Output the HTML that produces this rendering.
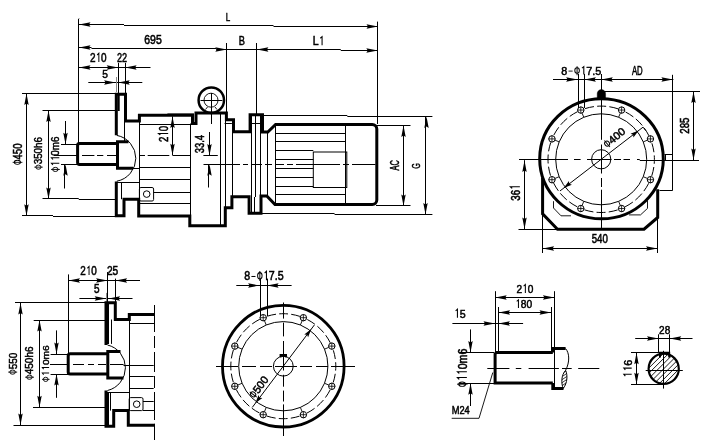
<!DOCTYPE html>
<html><head><meta charset="utf-8"><style>
html,body{margin:0;padding:0;background:#fff;}
svg{display:block;filter:grayscale(1);}
text{font-family:"Liberation Sans",sans-serif;font-size:100px;stroke:#000;stroke-width:4.5px;}
</style></head><body>
<svg width="709" height="445" viewBox="0 0 709 445">
<rect width="709" height="445" fill="#fff"/>
<line x1="79.5" y1="18.5" x2="79.5" y2="18.75" stroke="#000" stroke-width="1"/>
<line x1="78.5" y1="18.75" x2="78.5" y2="144" stroke="#000" stroke-width="1"/>
<line x1="79" y1="24.5" x2="124" y2="24.5" stroke="#000" stroke-width="1"/>
<line x1="124" y1="25.5" x2="273.5" y2="25.5" stroke="#000" stroke-width="1"/>
<line x1="273.5" y1="26.5" x2="378" y2="26.5" stroke="#000" stroke-width="1"/>
<polygon points="79,24.5 90.5,22.3 89,24.5 90.5,26.7" fill="#000"/>
<polygon points="378,26.5 366.5,28.7 368,26.5 366.5,24.3" fill="#000"/>
<g transform="translate(228.05 17.3) rotate(0) scale(0.0804 0.1101) translate(-28 34.5)"><text x="0" y="0">L</text></g>
<line x1="79" y1="47.5" x2="91.5" y2="47.5" stroke="#000" stroke-width="1"/>
<line x1="91.5" y1="48.5" x2="216.25" y2="48.5" stroke="#000" stroke-width="1"/>
<line x1="216.25" y1="49.5" x2="340.75" y2="49.5" stroke="#000" stroke-width="1"/>
<line x1="340.75" y1="50.5" x2="378" y2="50.5" stroke="#000" stroke-width="1"/>
<polygon points="79,47.5 90.5,45.3 89,47.5 90.5,49.7" fill="#000"/>
<polygon points="226.8,49.5 215.3,51.7 216.8,49.5 215.3,47.3" fill="#000"/>
<polygon points="256.9,49.5 268.4,47.3 266.9,49.5 268.4,51.7" fill="#000"/>
<polygon points="377.8,50.5 366.3,52.7 367.8,50.5 366.3,48.3" fill="#000"/>
<g transform="translate(153.05 40) rotate(0) scale(0.1048 0.1268) translate(-83.5 34.5)"><text x="0" y="0">695</text></g>
<g transform="translate(241.9 40.25) rotate(0) scale(0.0925 0.1232) translate(-33.5 34.5)"><text x="0" y="0">B</text></g>
<g transform="translate(317.65 40.95) rotate(0) scale(0.1058 0.1208) translate(-46.8 36)"><text x="0" y="0">L</text><path d="M88.61,0 V-71.5 L71.61,-58" fill="none" stroke="#000" stroke-width="10" stroke-linejoin="miter"/></g>
<line x1="226.5" y1="43" x2="226.5" y2="112" stroke="#000" stroke-width="1"/>
<line x1="256.5" y1="43" x2="256.5" y2="116" stroke="#000" stroke-width="1"/>
<line x1="255.5" y1="116" x2="255.5" y2="197" stroke="#000" stroke-width="1"/>
<line x1="254.5" y1="197" x2="254.5" y2="213" stroke="#000" stroke-width="1"/>
<line x1="377.5" y1="21.6" x2="377.5" y2="124" stroke="#000" stroke-width="1"/>
<line x1="79" y1="67.5" x2="150.5" y2="67.5" stroke="#000" stroke-width="1"/>
<polygon points="79,67.5 90.5,65.3 89,67.5 90.5,69.7" fill="#000"/>
<polygon points="118.2,67.5 106.7,69.7 108.2,67.5 106.7,65.3" fill="#000"/>
<polygon points="125.1,67.5 136.6,65.3 135.1,67.5 136.6,69.7" fill="#000"/>
<g transform="translate(98.35 57.7) rotate(0) scale(0.0999 0.1205) translate(-83.6 35.5)"><text x="0" y="0">2</text><path d="M88.61,0 V-71.5 L71.61,-58" fill="none" stroke="#000" stroke-width="10" stroke-linejoin="miter"/><text x="111.21" y="0">0</text></g>
<g transform="translate(121.95 57.7) rotate(0) scale(0.0910 0.1257) translate(-55.5 35)"><text x="0" y="0">22</text></g>
<line x1="118.5" y1="62.8" x2="118.5" y2="94" stroke="#000" stroke-width="1"/>
<line x1="125.5" y1="62.8" x2="125.5" y2="94" stroke="#000" stroke-width="1"/>
<line x1="88.3" y1="82.5" x2="142.3" y2="82.5" stroke="#000" stroke-width="1"/>
<polygon points="115.6,82.5 104.1,84.7 105.6,82.5 104.1,80.3" fill="#000"/>
<polygon points="118.2,82.5 129.7,80.3 128.2,82.5 129.7,84.7" fill="#000"/>
<g transform="translate(105.15 73.9) rotate(0) scale(0.1018 0.1171) translate(-28 34)"><text x="0" y="0">5</text></g>
<line x1="116.5" y1="77" x2="116.5" y2="92" stroke="#888" stroke-width="1"/>
<line x1="22" y1="93.5" x2="116" y2="93.5" stroke="#000" stroke-width="1"/>
<line x1="116" y1="94.5" x2="116" y2="94.5" stroke="#000" stroke-width="1"/>
<line x1="22" y1="215.5" x2="53" y2="215.5" stroke="#000" stroke-width="1"/>
<line x1="53" y1="216.5" x2="115" y2="216.5" stroke="#000" stroke-width="1"/>
<line x1="26.5" y1="93.5" x2="26.5" y2="215.8" stroke="#000" stroke-width="1"/>
<polygon points="26.5,93.6 28.7,105.1 26.5,103.6 24.3,105.1" fill="#000"/>
<polygon points="26.5,215.8 24.3,204.3 26.5,205.8 28.7,204.3" fill="#000"/>
<g transform="translate(17.45 154.1) rotate(-90) scale(0.0959 0.1219) translate(-114.5 35.5)"><ellipse cx="29" cy="-36" rx="21" ry="25" fill="none" stroke="#000" stroke-width="9"/><line x1="29" y1="-75" x2="29" y2="5" stroke="#000" stroke-width="9"/><text x="58" y="0">450</text></g>
<line x1="42.5" y1="110.5" x2="116" y2="110.5" stroke="#000" stroke-width="1"/>
<line x1="42.5" y1="198.5" x2="78.75" y2="198.5" stroke="#000" stroke-width="1"/>
<line x1="78.75" y1="199.5" x2="115" y2="199.5" stroke="#000" stroke-width="1"/>
<line x1="48.5" y1="110.5" x2="48.5" y2="198.9" stroke="#000" stroke-width="1"/>
<polygon points="48.5,110.6 50.7,122.1 48.5,120.6 46.3,122.1" fill="#000"/>
<polygon points="48.5,198.9 46.3,187.4 48.5,188.9 50.7,187.4" fill="#000"/>
<g transform="translate(38.5 153.3) rotate(-90) scale(0.0982 0.1041) translate(-170 35.5)"><ellipse cx="29" cy="-36" rx="21" ry="25" fill="none" stroke="#000" stroke-width="9"/><line x1="29" y1="-75" x2="29" y2="5" stroke="#000" stroke-width="9"/><text x="58" y="0">350h6</text></g>
<line x1="61" y1="144.5" x2="78" y2="144.5" stroke="#000" stroke-width="1"/>
<line x1="61" y1="164.5" x2="78" y2="164.5" stroke="#000" stroke-width="1"/>
<line x1="65.5" y1="121" x2="65.5" y2="144.2" stroke="#000" stroke-width="1"/>
<line x1="65.5" y1="164.2" x2="65.5" y2="164.45" stroke="#000" stroke-width="1"/>
<line x1="64.5" y1="164.45" x2="64.5" y2="188.5" stroke="#000" stroke-width="1"/>
<polygon points="65.5,144.2 63.3,132.7 65.5,134.2 67.7,132.7" fill="#000"/>
<polygon points="65.5,164.2 67.7,175.7 65.5,174.2 63.3,175.7" fill="#000"/>
<g transform="translate(55.4 154.15) rotate(-90) scale(0.0986 0.1096) translate(-184.1 35.5)"><ellipse cx="29" cy="-36" rx="21" ry="25" fill="none" stroke="#000" stroke-width="9"/><line x1="29" y1="-75" x2="29" y2="5" stroke="#000" stroke-width="9"/><path d="M91,0 V-71.5 L74,-58" fill="none" stroke="#000" stroke-width="10" stroke-linejoin="miter"/><path d="M146.6,0 V-71.5 L129.6,-58" fill="none" stroke="#000" stroke-width="10" stroke-linejoin="miter"/><text x="169.2" y="0">0m6</text></g>
<line x1="54" y1="155.5" x2="77" y2="155.5" stroke="#000" stroke-width="1"/>
<line x1="82" y1="155.5" x2="94.4" y2="155.5" stroke="#000" stroke-width="1"/>
<line x1="97" y1="155.5" x2="103.3" y2="155.5" stroke="#000" stroke-width="1"/>
<line x1="107" y1="155.5" x2="117" y2="155.5" stroke="#000" stroke-width="1"/>
<line x1="140" y1="155.5" x2="145" y2="155.5" stroke="#000" stroke-width="1"/>
<line x1="147.7" y1="155.5" x2="169.3" y2="155.5" stroke="#000" stroke-width="1"/>
<line x1="172.5" y1="155.5" x2="190.9" y2="155.5" stroke="#000" stroke-width="1"/>
<line x1="167.4" y1="113.5" x2="194" y2="113.5" stroke="#777" stroke-width="1"/>
<line x1="172.5" y1="116.3" x2="172.5" y2="155.2" stroke="#000" stroke-width="1"/>
<polygon points="172.5,116.6 174.7,128.1 172.5,126.6 170.3,128.1" fill="#000"/>
<polygon points="172.5,155.2 170.3,143.7 172.5,145.2 174.7,143.7" fill="#000"/>
<g transform="translate(163.35 133.9) rotate(-90) scale(0.0969 0.1356) translate(-83.6 35.5)"><text x="0" y="0">2</text><path d="M88.61,0 V-71.5 L71.61,-58" fill="none" stroke="#000" stroke-width="10" stroke-linejoin="miter"/><text x="111.21" y="0">0</text></g>
<line x1="209.5" y1="132" x2="209.5" y2="155.6" stroke="#000" stroke-width="1"/>
<polygon points="209.5,155.6 207.3,144.1 209.5,145.6 211.7,144.1" fill="#000"/>
<line x1="203.4" y1="155.5" x2="217.8" y2="155.5" stroke="#000" stroke-width="1"/>
<line x1="209.5" y1="164.2" x2="209.5" y2="164.45" stroke="#000" stroke-width="1"/>
<line x1="208.5" y1="164.45" x2="208.5" y2="187.5" stroke="#000" stroke-width="1"/>
<polygon points="209.5,164.3 211.7,175.8 209.5,174.3 207.3,175.8" fill="#000"/>
<g transform="translate(199.8 144.1) rotate(-90) scale(0.0944 0.1296) translate(-97.5 34.5)"><text x="0" y="0">33.4</text></g>
<line x1="203.5" y1="164.5" x2="240" y2="164.5" stroke="#000" stroke-width="1"/>
<line x1="243" y1="164.5" x2="248" y2="164.5" stroke="#000" stroke-width="1"/>
<line x1="251" y1="164.5" x2="262" y2="164.5" stroke="#000" stroke-width="1"/>
<line x1="265" y1="164.5" x2="272" y2="164.5" stroke="#000" stroke-width="1"/>
<line x1="276" y1="164.5" x2="284" y2="164.5" stroke="#000" stroke-width="1"/>
<line x1="287" y1="164.5" x2="293" y2="164.5" stroke="#000" stroke-width="1"/>
<line x1="296" y1="164.5" x2="340" y2="164.5" stroke="#000" stroke-width="1"/>
<line x1="343" y1="164.5" x2="349" y2="164.5" stroke="#000" stroke-width="1"/>
<line x1="352" y1="164.5" x2="375.5" y2="164.5" stroke="#000" stroke-width="1"/>
<line x1="376" y1="125.5" x2="410.5" y2="125.5" stroke="#000" stroke-width="1"/>
<line x1="376" y1="205.5" x2="410.5" y2="205.5" stroke="#000" stroke-width="1"/>
<line x1="410.5" y1="206.5" x2="410.5" y2="206.5" stroke="#000" stroke-width="1"/>
<line x1="403.5" y1="125.5" x2="403.5" y2="205.9" stroke="#000" stroke-width="1"/>
<polygon points="403.5,125.6 405.7,137.1 403.5,135.6 401.3,137.1" fill="#000"/>
<polygon points="403.5,205.9 401.3,194.4 403.5,195.9 405.7,194.4" fill="#000"/>
<g transform="translate(394.3 165.2) rotate(-90) scale(0.0748 0.1239) translate(-69.5 34.5)"><text x="0" y="0">AC</text></g>
<line x1="262" y1="115.5" x2="347.33" y2="115.5" stroke="#000" stroke-width="1"/>
<line x1="347.33" y1="116.5" x2="432.4" y2="116.5" stroke="#000" stroke-width="1"/>
<line x1="261" y1="213.5" x2="334.56" y2="213.5" stroke="#000" stroke-width="1"/>
<line x1="334.56" y1="214.5" x2="432.4" y2="214.5" stroke="#000" stroke-width="1"/>
<line x1="426.5" y1="116.2" x2="426.5" y2="116.45" stroke="#000" stroke-width="1"/>
<line x1="425.5" y1="116.45" x2="425.5" y2="214.7" stroke="#000" stroke-width="1"/>
<polygon points="426.5,116.4 428.7,127.9 426.5,126.4 424.3,127.9" fill="#000"/>
<polygon points="425.5,214.6 423.3,203.1 425.5,204.6 427.7,203.1" fill="#000"/>
<g transform="translate(416.4 165.9) rotate(-90) scale(0.0718 0.1183) translate(-39 34.5)"><text x="0" y="0">G</text></g>
<path d="M116.3,135.3 V94.2 H125.5 V121.1 H139.4 V115.2 H192.5 V123.5 H196 V113.0 H226.4 V119.8 H233.5 V131.8 H250.1 V114.7 H262.5 V132.0 H267.8 L275.6,124.4 H372.3 A4.5,4.5 0 0 1 376.8,128.9 V200.1 A4.5,4.5 0 0 1 372.3,204.6 H275.0 L266.8,196.0 H261.0 V213.2 H249.1 V196.8 H231.9 V207.7 H225.3 V225.8 H189.8 V216.0 H138.7 V199.2 H124.0 V215.8 H116.3 V181.5" stroke="#000" stroke-width="3" fill="none"/>
<path d="M116.6,143.6 H79.5 Q77.6,143.6 77.6,145.5 V162.5 Q77.6,164.4 79.5,164.4 H116.6" stroke="#000" stroke-width="3" fill="none"/>
<path d="M128.5,141.8 H117.5 V168.3 H133.2" stroke="#000" stroke-width="3" fill="none"/>
<path d="M116.8,135.4 A23.3,23.3 0 0 1 116.8,181.2" stroke="#000" stroke-width="1" fill="none"/>
<line x1="118.6" y1="94.5" x2="118.6" y2="111" stroke="#000" stroke-width="2.2"/>
<line x1="124.5" y1="121" x2="124.5" y2="141.5" stroke="#000" stroke-width="1"/>
<line x1="121.5" y1="182" x2="121.5" y2="199.2" stroke="#000" stroke-width="1"/>
<line x1="116.8" y1="182.5" x2="139.5" y2="182.5" stroke="#000" stroke-width="1"/>
<line x1="139.5" y1="121" x2="139.5" y2="199" stroke="#000" stroke-width="1"/>
<line x1="139.4" y1="124.5" x2="192.5" y2="124.5" stroke="#000" stroke-width="1"/>
<line x1="190.5" y1="123.5" x2="190.5" y2="215.6" stroke="#000" stroke-width="1"/>
<line x1="133" y1="168.5" x2="139.5" y2="168.5" stroke="#000" stroke-width="1"/>
<line x1="139.5" y1="167.5" x2="190.8" y2="167.5" stroke="#000" stroke-width="1"/>
<line x1="139.5" y1="179.5" x2="190.8" y2="179.5" stroke="#000" stroke-width="1"/>
<line x1="153.6" y1="192.5" x2="190.8" y2="192.5" stroke="#000" stroke-width="1"/>
<line x1="139.5" y1="203.5" x2="190.8" y2="203.5" stroke="#000" stroke-width="1"/>
<rect x="139.4" y="187.5" width="14.2" height="13.5" rx="1.5" fill="none" stroke="#000" stroke-width="1.0"/>
<circle cx="146.7" cy="194.1" r="3.3" stroke="#000" stroke-width="1" fill="none"/>
<line x1="211.5" y1="112" x2="211.5" y2="124" stroke="#000" stroke-width="1"/>
<line x1="220.5" y1="113" x2="220.5" y2="225" stroke="#000" stroke-width="1"/>
<line x1="225.5" y1="119.8" x2="225.5" y2="207.7" stroke="#000" stroke-width="1"/>
<line x1="224.6" y1="123.5" x2="231.9" y2="123.5" stroke="#000" stroke-width="1"/>
<line x1="232.5" y1="131.8" x2="232.5" y2="198.43" stroke="#000" stroke-width="1"/>
<line x1="231.5" y1="198.43" x2="231.5" y2="207.7" stroke="#000" stroke-width="1"/>
<line x1="251.5" y1="114.6" x2="251.5" y2="213" stroke="#000" stroke-width="1"/>
<line x1="260.5" y1="114.6" x2="260.5" y2="213" stroke="#000" stroke-width="1"/>
<line x1="250.3" y1="123.5" x2="262.3" y2="123.5" stroke="#000" stroke-width="1"/>
<line x1="267.5" y1="132.3" x2="267.5" y2="195.8" stroke="#000" stroke-width="1"/>
<line x1="275.5" y1="124.5" x2="275.5" y2="204.8" stroke="#000" stroke-width="1"/>
<line x1="345.5" y1="124.5" x2="345.5" y2="204.8" stroke="#000" stroke-width="1"/>
<line x1="275.6" y1="133.5" x2="345.4" y2="133.5" stroke="#000" stroke-width="1"/>
<line x1="275.6" y1="141.5" x2="345.4" y2="141.5" stroke="#000" stroke-width="1"/>
<line x1="275.6" y1="150.5" x2="313.3" y2="150.5" stroke="#000" stroke-width="1"/>
<line x1="275.6" y1="159.5" x2="313.3" y2="159.5" stroke="#000" stroke-width="1"/>
<line x1="275.6" y1="168.5" x2="313.3" y2="168.5" stroke="#000" stroke-width="1"/>
<line x1="275.6" y1="177.5" x2="313.3" y2="177.5" stroke="#000" stroke-width="1"/>
<line x1="275.6" y1="186.5" x2="313.3" y2="186.5" stroke="#000" stroke-width="1"/>
<line x1="275.6" y1="194.5" x2="345.4" y2="194.5" stroke="#000" stroke-width="1"/>
<rect x="313.3" y="152" width="33.5" height="35.5" fill="none" stroke="#000" stroke-width="1.0"/>
<circle cx="211.3" cy="100.2" r="12.7" stroke="#000" stroke-width="2.5" fill="none"/>
<circle cx="211" cy="100.2" r="7" stroke="#000" stroke-width="0.9" fill="none"/>
<line x1="200.5" y1="100.5" x2="222.4" y2="100.5" stroke="#000" stroke-width="1"/>
<line x1="211.5" y1="93" x2="211.5" y2="112" stroke="#000" stroke-width="1"/>
<path d="M205.5,109.5 L207.5,107 M217,109.5 L215,107" stroke="#000" stroke-width="0.9" fill="none"/>
<path d="M542.6,178 V213.8 L557.5,229.2 H644.0 L657.7,217.5 V189.2" stroke="#000" stroke-width="3" fill="none"/>
<ellipse cx="601.5" cy="158.8" rx="61.8" ry="60.0" stroke="#000" stroke-width="3.0" fill="none"/>
<circle cx="601.2" cy="159.3" r="53.2" stroke="#000" stroke-width="1" fill="none" stroke-dasharray="9.13 3.2 9.13 3.2 9.13 8" stroke-dashoffset="16.89"/>
<circle cx="601.2" cy="159.3" r="45.5" stroke="#000" stroke-width="1" fill="none"/>
<circle cx="601.2" cy="159.3" r="9.6" stroke="#000" stroke-width="1" fill="none"/>
<line x1="519" y1="159.5" x2="568" y2="159.5" stroke="#000" stroke-width="1"/>
<line x1="574" y1="159.5" x2="580.6" y2="159.5" stroke="#000" stroke-width="1"/>
<line x1="587" y1="159.5" x2="611.5" y2="159.5" stroke="#000" stroke-width="1"/>
<line x1="614" y1="159.5" x2="621" y2="159.5" stroke="#000" stroke-width="1"/>
<line x1="623.5" y1="159.5" x2="630" y2="159.5" stroke="#000" stroke-width="1"/>
<line x1="637" y1="159.5" x2="639.75" y2="159.5" stroke="#000" stroke-width="1"/>
<line x1="639.75" y1="160.5" x2="699" y2="160.5" stroke="#000" stroke-width="1"/>
<line x1="601.5" y1="74" x2="601.5" y2="139.8" stroke="#000" stroke-width="1"/>
<line x1="601.5" y1="144.5" x2="601.5" y2="173.5" stroke="#000" stroke-width="1"/>
<line x1="601.5" y1="178" x2="601.5" y2="187" stroke="#000" stroke-width="1"/>
<line x1="601.5" y1="189.7" x2="601.5" y2="229" stroke="#000" stroke-width="1"/>
<circle cx="621.6" cy="110.06" r="3.2" stroke="#000" stroke-width="1" fill="none"/>
<line x1="618.2" y1="110.06" x2="625" y2="110.06" stroke="#000" stroke-width="0.8"/>
<line x1="621.6" y1="106.66" x2="621.6" y2="113.46" stroke="#000" stroke-width="0.8"/>
<line x1="620.33" y1="113.11" x2="618.61" y2="117.26" stroke="#000" stroke-width="0.9"/>
<circle cx="650.44" cy="138.9" r="3.2" stroke="#000" stroke-width="1" fill="none"/>
<line x1="647.04" y1="138.9" x2="653.84" y2="138.9" stroke="#000" stroke-width="0.8"/>
<line x1="650.44" y1="135.5" x2="650.44" y2="142.3" stroke="#000" stroke-width="0.8"/>
<line x1="647.39" y1="140.17" x2="643.24" y2="141.89" stroke="#000" stroke-width="0.9"/>
<circle cx="650.44" cy="179.7" r="3.2" stroke="#000" stroke-width="1" fill="none"/>
<line x1="647.04" y1="179.7" x2="653.84" y2="179.7" stroke="#000" stroke-width="0.8"/>
<line x1="650.44" y1="176.3" x2="650.44" y2="183.1" stroke="#000" stroke-width="0.8"/>
<line x1="647.39" y1="178.43" x2="643.24" y2="176.71" stroke="#000" stroke-width="0.9"/>
<circle cx="621.6" cy="208.54" r="3.2" stroke="#000" stroke-width="1" fill="none"/>
<line x1="618.2" y1="208.54" x2="625" y2="208.54" stroke="#000" stroke-width="0.8"/>
<line x1="621.6" y1="205.14" x2="621.6" y2="211.94" stroke="#000" stroke-width="0.8"/>
<line x1="620.33" y1="205.49" x2="618.61" y2="201.34" stroke="#000" stroke-width="0.9"/>
<circle cx="580.8" cy="208.54" r="3.2" stroke="#000" stroke-width="1" fill="none"/>
<line x1="577.4" y1="208.54" x2="584.2" y2="208.54" stroke="#000" stroke-width="0.8"/>
<line x1="580.8" y1="205.14" x2="580.8" y2="211.94" stroke="#000" stroke-width="0.8"/>
<line x1="582.07" y1="205.49" x2="583.79" y2="201.34" stroke="#000" stroke-width="0.9"/>
<circle cx="551.96" cy="179.7" r="3.2" stroke="#000" stroke-width="1" fill="none"/>
<line x1="548.56" y1="179.7" x2="555.36" y2="179.7" stroke="#000" stroke-width="0.8"/>
<line x1="551.96" y1="176.3" x2="551.96" y2="183.1" stroke="#000" stroke-width="0.8"/>
<line x1="555.01" y1="178.43" x2="559.16" y2="176.71" stroke="#000" stroke-width="0.9"/>
<circle cx="551.96" cy="138.9" r="3.2" stroke="#000" stroke-width="1" fill="none"/>
<line x1="548.56" y1="138.9" x2="555.36" y2="138.9" stroke="#000" stroke-width="0.8"/>
<line x1="551.96" y1="135.5" x2="551.96" y2="142.3" stroke="#000" stroke-width="0.8"/>
<line x1="555.01" y1="140.17" x2="559.16" y2="141.89" stroke="#000" stroke-width="0.9"/>
<circle cx="580.8" cy="110.06" r="3.2" stroke="#000" stroke-width="1" fill="none"/>
<line x1="577.4" y1="110.06" x2="584.2" y2="110.06" stroke="#000" stroke-width="0.8"/>
<line x1="580.8" y1="106.66" x2="580.8" y2="113.46" stroke="#000" stroke-width="0.8"/>
<line x1="582.07" y1="113.11" x2="583.79" y2="117.26" stroke="#000" stroke-width="0.9"/>
<path d="M553.5,201.2 V208 L561,215.8 H571" stroke="#000" stroke-width="0.9" fill="none"/>
<path d="M647.5,200.3 V208.4 L640.5,214.9 H629" stroke="#000" stroke-width="0.9" fill="none"/>
<line x1="672.5" y1="74.8" x2="672.5" y2="190.7" stroke="#000" stroke-width="1"/>
<line x1="659.5" y1="190.5" x2="672.4" y2="190.5" stroke="#000" stroke-width="1"/>
<line x1="664.5" y1="154.5" x2="672.4" y2="154.5" stroke="#000" stroke-width="1"/>
<line x1="665.5" y1="154.5" x2="665.5" y2="160" stroke="#000" stroke-width="1"/>
<path d="M597.2,98.5 V93.8 A4.2,4.2 0 0 1 605.6,93.8 V98.5 Z" stroke="#000" stroke-width="0.4" fill="#000"/>
<line x1="601.3" y1="91.5" x2="700" y2="91.5" stroke="#000" stroke-width="1"/>
<line x1="693.5" y1="91.2" x2="693.5" y2="160.2" stroke="#000" stroke-width="1"/>
<polygon points="693.5,91.4 695.7,102.9 693.5,101.4 691.3,102.9" fill="#000"/>
<polygon points="693.5,160.1 691.3,148.6 693.5,150.1 695.7,148.6" fill="#000"/>
<g transform="translate(684.8 125.65) rotate(-90) scale(0.0964 0.1352) translate(-83.5 34.5)"><text x="0" y="0">285</text></g>
<line x1="553" y1="79.5" x2="673.4" y2="79.5" stroke="#000" stroke-width="1"/>
<polygon points="577.6,79.5 566.1,81.7 567.6,79.5 566.1,77.3" fill="#000"/>
<polygon points="584.4,79.5 595.9,77.3 594.4,79.5 595.9,81.7" fill="#000"/>
<polygon points="601.3,79.5 612.8,77.3 611.3,79.5 612.8,81.7" fill="#000"/>
<polygon points="672.9,79.5 661.4,81.7 662.9,79.5 661.4,77.3" fill="#000"/>
<line x1="578.5" y1="73.9" x2="578.5" y2="108" stroke="#000" stroke-width="1"/>
<line x1="584.5" y1="73.9" x2="584.5" y2="108" stroke="#000" stroke-width="1"/>
<g transform="translate(581.25 70.6) rotate(0) scale(0.1083 0.1123) translate(-185.1 35.5)"><text x="0" y="0">8</text><line x1="67.61" y1="-31" x2="105.61" y2="-31" stroke="#000" stroke-width="8"/><ellipse cx="146.61" cy="-36" rx="21" ry="25" fill="none" stroke="#000" stroke-width="9"/><line x1="146.61" y1="-75" x2="146.61" y2="5" stroke="#000" stroke-width="9"/><path d="M208.61,0 V-71.5 L191.61,-58" fill="none" stroke="#000" stroke-width="10" stroke-linejoin="miter"/><text x="231.21" y="0">7.5</text></g>
<g transform="translate(637.3 70.95) rotate(0) scale(0.0777 0.1203) translate(-69.5 34.5)"><text x="0" y="0">AD</text></g>
<line x1="559.96" y1="190.97" x2="643.07" y2="127.14" stroke="#000" stroke-width="1"/>
<line x1="643.07" y1="127.14" x2="645.81" y2="130.71" stroke="#000" stroke-width="1"/>
<polygon points="638.71,130.49 633.43,137.57 633.16,134.76 630.51,133.77" fill="#000"/>
<polygon points="563.69,188.11 568.97,181.03 569.24,183.84 571.89,184.83" fill="#000"/>
<g transform="translate(614.4 137.6) rotate(-40) scale(0.1109 0.1068) translate(-114.5 35.5)"><ellipse cx="29" cy="-36" rx="21" ry="25" fill="none" stroke="#000" stroke-width="9"/><line x1="29" y1="-75" x2="29" y2="5" stroke="#000" stroke-width="9"/><text x="58" y="0">400</text></g>
<line x1="524.5" y1="160.2" x2="524.5" y2="229.2" stroke="#000" stroke-width="1"/>
<polygon points="524.5,160.4 526.7,171.9 524.5,170.4 522.3,171.9" fill="#000"/>
<polygon points="524.5,229 522.3,217.5 524.5,219 526.7,217.5" fill="#000"/>
<line x1="518.5" y1="229.5" x2="558" y2="229.5" stroke="#000" stroke-width="1"/>
<g transform="translate(515.15 193.5) rotate(-90) scale(0.0965 0.1329) translate(-74.61 35.5)"><text x="0" y="0">36</text><path d="M144.22,0 V-71.5 L127.22,-58" fill="none" stroke="#000" stroke-width="10" stroke-linejoin="miter"/></g>
<line x1="542.5" y1="214" x2="542.5" y2="253" stroke="#000" stroke-width="1"/>
<line x1="657.5" y1="217" x2="657.5" y2="253" stroke="#000" stroke-width="1"/>
<line x1="542.6" y1="248.5" x2="657.5" y2="248.5" stroke="#000" stroke-width="1"/>
<polygon points="542.6,248.5 554.1,246.3 552.6,248.5 554.1,250.7" fill="#000"/>
<polygon points="657.5,248.5 646,250.7 647.5,248.5 646,246.3" fill="#000"/>
<g transform="translate(599.8 238.55) rotate(0) scale(0.0970 0.1197) translate(-83.5 34.5)"><text x="0" y="0">540</text></g>
<g transform="translate(88.55 270.85) rotate(0) scale(0.0987 0.1192) translate(-83.6 35.5)"><text x="0" y="0">2</text><path d="M88.61,0 V-71.5 L71.61,-58" fill="none" stroke="#000" stroke-width="10" stroke-linejoin="miter"/><text x="111.21" y="0">0</text></g>
<g transform="translate(112.55 270.85) rotate(0) scale(0.1018 0.1225) translate(-55.5 34.5)"><text x="0" y="0">25</text></g>
<g transform="translate(96.8 289.2) rotate(0) scale(0.1000 0.1200) translate(-28 34)"><text x="0" y="0">5</text></g>
<line x1="68.5" y1="280.5" x2="140" y2="280.5" stroke="#000" stroke-width="1"/>
<polygon points="68.5,280.5 80,278.3 78.5,280.5 80,282.7" fill="#000"/>
<polygon points="107.6,280.5 96.1,282.7 97.6,280.5 96.1,278.3" fill="#000"/>
<polygon points="115.6,280.5 127.1,278.3 125.6,280.5 127.1,282.7" fill="#000"/>
<line x1="68.5" y1="274.4" x2="68.5" y2="353.8" stroke="#000" stroke-width="1"/>
<line x1="108.5" y1="271.8" x2="108.5" y2="272.05" stroke="#000" stroke-width="1"/>
<line x1="107.5" y1="272.05" x2="107.5" y2="303" stroke="#000" stroke-width="1"/>
<line x1="115.5" y1="278.6" x2="115.5" y2="303" stroke="#000" stroke-width="1"/>
<line x1="79.4" y1="298.5" x2="132.5" y2="298.5" stroke="#000" stroke-width="1"/>
<polygon points="106.2,298.5 94.7,300.7 96.2,298.5 94.7,296.3" fill="#000"/>
<polygon points="108.6,298.5 120.1,296.3 118.6,298.5 120.1,300.7" fill="#000"/>
<line x1="106.5" y1="292.9" x2="106.5" y2="303" stroke="#888" stroke-width="1"/>
<line x1="15" y1="302.5" x2="106" y2="302.5" stroke="#000" stroke-width="1"/>
<line x1="13.5" y1="425.5" x2="106" y2="425.5" stroke="#000" stroke-width="1"/>
<line x1="20.5" y1="302.8" x2="20.5" y2="425" stroke="#000" stroke-width="1"/>
<polygon points="20.5,302.9 22.7,314.4 20.5,312.9 18.3,314.4" fill="#000"/>
<polygon points="20.5,425 18.3,413.5 20.5,415 22.7,413.5" fill="#000"/>
<g transform="translate(12.65 363.6) rotate(-90) scale(0.0995 0.1110) translate(-114.5 35.5)"><ellipse cx="29" cy="-36" rx="21" ry="25" fill="none" stroke="#000" stroke-width="9"/><line x1="29" y1="-75" x2="29" y2="5" stroke="#000" stroke-width="9"/><text x="58" y="0">550</text></g>
<line x1="33.7" y1="320.5" x2="106" y2="320.5" stroke="#000" stroke-width="1"/>
<line x1="33" y1="407.5" x2="106" y2="407.5" stroke="#000" stroke-width="1"/>
<line x1="39.5" y1="320" x2="39.5" y2="407.4" stroke="#000" stroke-width="1"/>
<polygon points="39.5,320.1 41.7,331.6 39.5,330.1 37.3,331.6" fill="#000"/>
<polygon points="39.5,407.3 37.3,395.8 39.5,397.3 41.7,395.8" fill="#000"/>
<g transform="translate(29.5 363.05) rotate(-90) scale(0.1003 0.1096) translate(-170 35.5)"><ellipse cx="29" cy="-36" rx="21" ry="25" fill="none" stroke="#000" stroke-width="9"/><line x1="29" y1="-75" x2="29" y2="5" stroke="#000" stroke-width="9"/><text x="58" y="0">450h6</text></g>
<line x1="50.6" y1="354.5" x2="68.5" y2="354.5" stroke="#000" stroke-width="1"/>
<line x1="50.6" y1="374.5" x2="68.5" y2="374.5" stroke="#000" stroke-width="1"/>
<line x1="56.5" y1="330.4" x2="56.5" y2="354" stroke="#000" stroke-width="1"/>
<line x1="56.5" y1="374" x2="56.5" y2="397.8" stroke="#000" stroke-width="1"/>
<polygon points="56.5,354 54.3,342.5 56.5,344 58.7,342.5" fill="#000"/>
<polygon points="56.5,374 58.7,385.5 56.5,384 54.3,385.5" fill="#000"/>
<g transform="translate(45.75 363.6) rotate(-90) scale(0.1016 0.0945) translate(-184.1 35.5)"><ellipse cx="29" cy="-36" rx="21" ry="25" fill="none" stroke="#000" stroke-width="9"/><line x1="29" y1="-75" x2="29" y2="5" stroke="#000" stroke-width="9"/><path d="M91,0 V-71.5 L74,-58" fill="none" stroke="#000" stroke-width="10" stroke-linejoin="miter"/><path d="M146.6,0 V-71.5 L129.6,-58" fill="none" stroke="#000" stroke-width="10" stroke-linejoin="miter"/><text x="169.2" y="0">0m6</text></g>
<path d="M107.8,353.8 H70.2 Q68.2,353.8 68.2,355.8 V372 Q68.2,374 70.2,374 H107.8" stroke="#000" stroke-width="3" fill="none"/>
<path d="M120.5,351.4 H107.8 V378.1 H123.5" stroke="#000" stroke-width="3" fill="none"/>
<path d="M106,345 V302.8 H115.3 V319.5 H129.3 V314.6 H155" stroke="#000" stroke-width="3" fill="none"/>
<path d="M106,390.5 V426.3 H113.7 V410.6 H128.3 V425.3 H154.4" stroke="#000" stroke-width="3" fill="none"/>
<path d="M107.5,345 A23.4,23.4 0 0 1 107.5,390.5" stroke="#000" stroke-width="1" fill="none"/>
<line x1="129.5" y1="319.5" x2="129.5" y2="410.6" stroke="#000" stroke-width="1"/>
<line x1="154.5" y1="305" x2="154.5" y2="332" stroke="#000" stroke-width="1"/>
<line x1="154.5" y1="336" x2="154.5" y2="348" stroke="#000" stroke-width="1"/>
<line x1="154.5" y1="352" x2="154.5" y2="372" stroke="#000" stroke-width="1"/>
<line x1="154.5" y1="376" x2="154.5" y2="388" stroke="#000" stroke-width="1"/>
<line x1="154.5" y1="392" x2="154.5" y2="420" stroke="#000" stroke-width="1"/>
<line x1="154.5" y1="423.7" x2="154.5" y2="440" stroke="#000" stroke-width="1"/>
<line x1="129.3" y1="323.5" x2="154.4" y2="323.5" stroke="#000" stroke-width="1"/>
<line x1="129.3" y1="376.5" x2="153.7" y2="376.5" stroke="#000" stroke-width="1"/>
<line x1="129.3" y1="388.5" x2="153.7" y2="388.5" stroke="#000" stroke-width="1"/>
<line x1="50" y1="364.5" x2="68" y2="364.5" stroke="#000" stroke-width="1"/>
<line x1="73" y1="364.5" x2="84" y2="364.5" stroke="#000" stroke-width="1"/>
<line x1="88" y1="364.5" x2="94" y2="364.5" stroke="#000" stroke-width="1"/>
<line x1="98" y1="364.5" x2="106" y2="364.5" stroke="#000" stroke-width="1"/>
<line x1="110" y1="364.5" x2="123.56" y2="364.5" stroke="#000" stroke-width="1"/>
<line x1="123.56" y1="365.5" x2="153.7" y2="365.5" stroke="#000" stroke-width="1"/>
<line x1="106.5" y1="392.5" x2="129.3" y2="392.5" stroke="#000" stroke-width="1"/>
<line x1="108" y1="302.8" x2="108" y2="343.9" stroke="#000" stroke-width="2"/>
<line x1="108" y1="392.7" x2="108" y2="426.3" stroke="#000" stroke-width="2"/>
<line x1="111.5" y1="319.5" x2="111.5" y2="343.9" stroke="#000" stroke-width="1"/>
<line x1="110.5" y1="392.7" x2="110.5" y2="410.6" stroke="#000" stroke-width="1"/>
<rect x="129.2" y="397.6" width="13.8" height="13" rx="1.5" fill="none" stroke="#000" stroke-width="1.0"/>
<circle cx="136.7" cy="404.2" r="3.3" stroke="#000" stroke-width="1" fill="none"/>
<line x1="143" y1="401.5" x2="153.7" y2="401.5" stroke="#000" stroke-width="1"/>
<line x1="143" y1="410.5" x2="154.4" y2="410.5" stroke="#000" stroke-width="1"/>
<circle cx="283.3" cy="366.2" r="60.8" stroke="#000" stroke-width="2.8" fill="none"/>
<circle cx="283.3" cy="366.2" r="52.5" stroke="#000" stroke-width="1" fill="none" stroke-dasharray="8.94 3.2 8.94 3.2 8.94 8" stroke-dashoffset="16.62"/>
<circle cx="283.3" cy="366.2" r="44.6" stroke="#000" stroke-width="1" fill="none"/>
<circle cx="283.3" cy="366.2" r="9.9" stroke="#000" stroke-width="1" fill="none"/>
<path d="M280.6,357.2 V355 H286 V357.2" stroke="#000" stroke-width="2" fill="none"/>
<line x1="216" y1="366.5" x2="238" y2="366.5" stroke="#000" stroke-width="1"/>
<line x1="242" y1="366.5" x2="256" y2="366.5" stroke="#000" stroke-width="1"/>
<line x1="260" y1="366.5" x2="272" y2="366.5" stroke="#000" stroke-width="1"/>
<line x1="275" y1="366.5" x2="297" y2="366.5" stroke="#000" stroke-width="1"/>
<line x1="300" y1="366.5" x2="312" y2="366.5" stroke="#000" stroke-width="1"/>
<line x1="316" y1="366.5" x2="328" y2="366.5" stroke="#000" stroke-width="1"/>
<line x1="331" y1="366.5" x2="355" y2="366.5" stroke="#000" stroke-width="1"/>
<line x1="283.5" y1="302.5" x2="283.5" y2="318.6" stroke="#000" stroke-width="1"/>
<line x1="283.5" y1="322.6" x2="283.5" y2="336.4" stroke="#000" stroke-width="1"/>
<line x1="283.5" y1="341" x2="283.5" y2="370.5" stroke="#000" stroke-width="1"/>
<line x1="283.5" y1="374.8" x2="283.5" y2="386.7" stroke="#000" stroke-width="1"/>
<line x1="283.5" y1="390.6" x2="283.5" y2="401.5" stroke="#000" stroke-width="1"/>
<line x1="283.5" y1="404.4" x2="283.5" y2="436" stroke="#000" stroke-width="1"/>
<circle cx="303.39" cy="317.7" r="3.2" stroke="#000" stroke-width="1" fill="none"/>
<line x1="299.99" y1="317.7" x2="306.79" y2="317.7" stroke="#000" stroke-width="0.8"/>
<line x1="303.39" y1="314.3" x2="303.39" y2="321.1" stroke="#000" stroke-width="0.8"/>
<line x1="302.13" y1="320.75" x2="300.37" y2="324.99" stroke="#000" stroke-width="0.9"/>
<circle cx="331.8" cy="346.11" r="3.2" stroke="#000" stroke-width="1" fill="none"/>
<line x1="328.4" y1="346.11" x2="335.2" y2="346.11" stroke="#000" stroke-width="0.8"/>
<line x1="331.8" y1="342.71" x2="331.8" y2="349.51" stroke="#000" stroke-width="0.8"/>
<line x1="328.75" y1="347.37" x2="324.51" y2="349.13" stroke="#000" stroke-width="0.9"/>
<circle cx="331.8" cy="386.29" r="3.2" stroke="#000" stroke-width="1" fill="none"/>
<line x1="328.4" y1="386.29" x2="335.2" y2="386.29" stroke="#000" stroke-width="0.8"/>
<line x1="331.8" y1="382.89" x2="331.8" y2="389.69" stroke="#000" stroke-width="0.8"/>
<line x1="328.75" y1="385.03" x2="324.51" y2="383.27" stroke="#000" stroke-width="0.9"/>
<circle cx="303.39" cy="414.7" r="3.2" stroke="#000" stroke-width="1" fill="none"/>
<line x1="299.99" y1="414.7" x2="306.79" y2="414.7" stroke="#000" stroke-width="0.8"/>
<line x1="303.39" y1="411.3" x2="303.39" y2="418.1" stroke="#000" stroke-width="0.8"/>
<line x1="302.13" y1="411.65" x2="300.37" y2="407.41" stroke="#000" stroke-width="0.9"/>
<circle cx="263.21" cy="414.7" r="3.2" stroke="#000" stroke-width="1" fill="none"/>
<line x1="259.81" y1="414.7" x2="266.61" y2="414.7" stroke="#000" stroke-width="0.8"/>
<line x1="263.21" y1="411.3" x2="263.21" y2="418.1" stroke="#000" stroke-width="0.8"/>
<line x1="264.47" y1="411.65" x2="266.23" y2="407.41" stroke="#000" stroke-width="0.9"/>
<circle cx="234.8" cy="386.29" r="3.2" stroke="#000" stroke-width="1" fill="none"/>
<line x1="231.4" y1="386.29" x2="238.2" y2="386.29" stroke="#000" stroke-width="0.8"/>
<line x1="234.8" y1="382.89" x2="234.8" y2="389.69" stroke="#000" stroke-width="0.8"/>
<line x1="237.85" y1="385.03" x2="242.09" y2="383.27" stroke="#000" stroke-width="0.9"/>
<circle cx="234.8" cy="346.11" r="3.2" stroke="#000" stroke-width="1" fill="none"/>
<line x1="231.4" y1="346.11" x2="238.2" y2="346.11" stroke="#000" stroke-width="0.8"/>
<line x1="234.8" y1="342.71" x2="234.8" y2="349.51" stroke="#000" stroke-width="0.8"/>
<line x1="237.85" y1="347.37" x2="242.09" y2="349.13" stroke="#000" stroke-width="0.9"/>
<circle cx="263.21" cy="317.7" r="3.2" stroke="#000" stroke-width="1" fill="none"/>
<line x1="259.81" y1="317.7" x2="266.61" y2="317.7" stroke="#000" stroke-width="0.8"/>
<line x1="263.21" y1="314.3" x2="263.21" y2="321.1" stroke="#000" stroke-width="0.8"/>
<line x1="264.47" y1="320.75" x2="266.23" y2="324.99" stroke="#000" stroke-width="0.9"/>
<line x1="252.24" y1="407.43" x2="314.36" y2="324.97" stroke="#000" stroke-width="1"/>
<polygon points="311.29,329.05 308.09,337.28 307.08,334.64 304.26,334.39" fill="#000"/>
<polygon points="255.31,403.35 258.51,395.12 259.52,397.76 262.34,398.01" fill="#000"/>
<g transform="translate(258.8 387) rotate(-53) scale(0.1086 0.1096) translate(-114.5 35.5)"><ellipse cx="29" cy="-36" rx="21" ry="25" fill="none" stroke="#000" stroke-width="9"/><line x1="29" y1="-75" x2="29" y2="5" stroke="#000" stroke-width="9"/><text x="58" y="0">500</text></g>
<g transform="translate(263.95 275.9) rotate(0) scale(0.1067 0.1260) translate(-185.1 35.5)"><text x="0" y="0">8</text><line x1="67.61" y1="-31" x2="105.61" y2="-31" stroke="#000" stroke-width="8"/><ellipse cx="146.61" cy="-36" rx="21" ry="25" fill="none" stroke="#000" stroke-width="9"/><line x1="146.61" y1="-75" x2="146.61" y2="5" stroke="#000" stroke-width="9"/><path d="M208.61,0 V-71.5 L191.61,-58" fill="none" stroke="#000" stroke-width="10" stroke-linejoin="miter"/><text x="231.21" y="0">7.5</text></g>
<line x1="236.3" y1="285.5" x2="291.6" y2="285.5" stroke="#000" stroke-width="1"/>
<polygon points="259.6,285.5 248.1,287.7 249.6,285.5 248.1,283.3" fill="#000"/>
<polygon points="267.1,285.5 278.6,283.3 277.1,285.5 278.6,287.7" fill="#000"/>
<line x1="260.5" y1="278.6" x2="260.5" y2="316" stroke="#000" stroke-width="1"/>
<line x1="267.5" y1="278.6" x2="267.5" y2="316" stroke="#000" stroke-width="1"/>
<g transform="translate(524.85 288.75) rotate(0) scale(0.1011 0.1164) translate(-83.6 35.5)"><text x="0" y="0">2</text><path d="M88.61,0 V-71.5 L71.61,-58" fill="none" stroke="#000" stroke-width="10" stroke-linejoin="miter"/><text x="111.21" y="0">0</text></g>
<g transform="translate(524.25 303.95) rotate(0) scale(0.1022 0.1137) translate(-89.8 35.5)"><path d="M33,0 V-71.5 L16,-58" fill="none" stroke="#000" stroke-width="10" stroke-linejoin="miter"/><text x="55.6" y="0">80</text></g>
<g transform="translate(460.55 313.5) rotate(0) scale(0.1065 0.1178) translate(-62.3 35.5)"><path d="M33,0 V-71.5 L16,-58" fill="none" stroke="#000" stroke-width="10" stroke-linejoin="miter"/><text x="55.6" y="0">5</text></g>
<g transform="translate(460.75 409.75) rotate(0) scale(0.0928 0.1100) translate(-97.5 35)"><text x="0" y="0">M24</text></g>
<g transform="translate(462.2 367.7) rotate(-90) scale(0.1061 0.1315) translate(-184.1 35.5)"><ellipse cx="29" cy="-36" rx="21" ry="25" fill="none" stroke="#000" stroke-width="9"/><line x1="29" y1="-75" x2="29" y2="5" stroke="#000" stroke-width="9"/><path d="M91,0 V-71.5 L74,-58" fill="none" stroke="#000" stroke-width="10" stroke-linejoin="miter"/><path d="M146.6,0 V-71.5 L129.6,-58" fill="none" stroke="#000" stroke-width="10" stroke-linejoin="miter"/><text x="169.2" y="0">0m6</text></g>
<line x1="495" y1="297.5" x2="554.6" y2="297.5" stroke="#000" stroke-width="1"/>
<polygon points="495.2,297.5 506.7,295.3 505.2,297.5 506.7,299.7" fill="#000"/>
<polygon points="554.4,297.5 542.9,299.7 544.4,297.5 542.9,295.3" fill="#000"/>
<line x1="498.4" y1="312.5" x2="551.2" y2="312.5" stroke="#000" stroke-width="1"/>
<polygon points="498.6,312.5 510.1,310.3 508.6,312.5 510.1,314.7" fill="#000"/>
<polygon points="551,312.5 539.5,314.7 541,312.5 539.5,310.3" fill="#000"/>
<line x1="495.5" y1="291.2" x2="495.5" y2="352.4" stroke="#000" stroke-width="1"/>
<line x1="554.5" y1="291.2" x2="554.5" y2="348.6" stroke="#000" stroke-width="1"/>
<line x1="498.5" y1="307" x2="498.5" y2="352.4" stroke="#000" stroke-width="1"/>
<line x1="551.5" y1="307" x2="551.5" y2="352.4" stroke="#000" stroke-width="1"/>
<line x1="452.4" y1="323.5" x2="523.1" y2="323.5" stroke="#000" stroke-width="1"/>
<polygon points="495,323.5 483.5,325.7 485,323.5 483.5,321.3" fill="#000"/>
<polygon points="498.4,323.5 509.9,321.3 508.4,323.5 509.9,325.7" fill="#000"/>
<path d="M552.8,352.4 H496.5 L495.1,353.8 V382.9 H552.8" stroke="#000" stroke-width="3" fill="none"/>
<path d="M552.8,352.4 V348.6 H565.6 M552.8,382.9 V388.6 H563.5" stroke="#000" stroke-width="3" fill="none"/>
<line x1="554.5" y1="348.6" x2="554.5" y2="388.5" stroke="#000" stroke-width="1"/>
<path d="M565.6,348.6 C569.5,353 570,362 565.6,370.3" stroke="#000" stroke-width="1" fill="none"/>
<clipPath id="bk"><path d="M565.6,370.3 C567.8,375 567.5,383 563.2,388.5 C561,383 561.2,375 565.6,370.3 Z"/></clipPath>
<path d="M560,372 L569,366 M560,375 L569,369 M560,378 L569,372 M560,381 L569,375 M560,384 L569,378 M560,387 L569,381 M560,390 L569,384 M560,393 L569,387" stroke="#000" stroke-width="0.8" clip-path="url(#bk)"/>
<path d="M565.6,370.3 C567.8,375 567.5,383 563.2,388.5 C561,383 561.2,375 565.6,370.3 Z" stroke="#000" stroke-width="1" fill="none"/>
<line x1="487.3" y1="368.5" x2="509.4" y2="368.5" stroke="#000" stroke-width="1"/>
<line x1="515.8" y1="368.5" x2="521.3" y2="368.5" stroke="#000" stroke-width="1"/>
<line x1="528.6" y1="368.5" x2="558.9" y2="368.5" stroke="#000" stroke-width="1"/>
<line x1="562" y1="368.5" x2="571.7" y2="368.5" stroke="#000" stroke-width="1"/>
<line x1="578.2" y1="368.5" x2="599.3" y2="368.5" stroke="#000" stroke-width="1"/>
<line x1="459.3" y1="352.5" x2="494" y2="352.5" stroke="#000" stroke-width="1"/>
<line x1="459.3" y1="383.5" x2="494" y2="383.5" stroke="#000" stroke-width="1"/>
<line x1="470.5" y1="329.4" x2="470.5" y2="352.4" stroke="#000" stroke-width="1"/>
<line x1="470.5" y1="383.2" x2="470.5" y2="406" stroke="#000" stroke-width="1"/>
<polygon points="470.5,352.4 468.3,340.9 470.5,342.4 472.7,340.9" fill="#000"/>
<polygon points="470.5,383.2 472.7,394.7 470.5,393.2 468.3,394.7" fill="#000"/>
<path d="M451.7,418.3 H479 L492.8,372.5" stroke="#000" stroke-width="0.9" fill="none"/>
<clipPath id="kc"><circle cx="663.7" cy="368.8" r="15"/></clipPath>
<path d="M602.1,388.8 L642.1,348.8 M607.3,388.8 L647.3,348.8 M612.5,388.8 L652.5,348.8 M617.7,388.8 L657.7,348.8 M622.9,388.8 L662.9,348.8 M628.1,388.8 L668.1,348.8 M633.3,388.8 L673.3,348.8 M638.5,388.8 L678.5,348.8 M643.7,388.8 L683.7,348.8 M648.9,388.8 L688.9,348.8 M654.1,388.8 L694.1,348.8 M659.3,388.8 L699.3,348.8 M664.5,388.8 L704.5,348.8 M669.7,388.8 L709.7,348.8 M674.9,388.8 L714.9,348.8 M680.1,388.8 L720.1,348.8 M685.3,388.8 L725.3,348.8" stroke="#000" stroke-width="0.9" clip-path="url(#kc)"/>
<circle cx="663.7" cy="368.8" r="15.1" stroke="#000" stroke-width="2.2" fill="none"/>
<path d="M660,357.5 V352.8 H669.2 V357.5" stroke="#000" stroke-width="2" fill="none"/>
<line x1="645.7" y1="370.5" x2="682.8" y2="370.5" stroke="#000" stroke-width="1"/>
<line x1="663.5" y1="350.8" x2="663.5" y2="388.6" stroke="#000" stroke-width="1"/>
<g transform="translate(664.65 329.85) rotate(0) scale(0.1000 0.1113) translate(-55.5 34.5)"><text x="0" y="0">28</text></g>
<line x1="635.2" y1="338.5" x2="692.5" y2="338.5" stroke="#000" stroke-width="1"/>
<polygon points="658.5,338.5 647,340.7 648.5,338.5 647,336.3" fill="#000"/>
<polygon points="669.7,338.5 681.2,336.3 679.7,338.5 681.2,340.7" fill="#000"/>
<line x1="658.5" y1="334.3" x2="658.5" y2="352.8" stroke="#000" stroke-width="1"/>
<line x1="669.5" y1="334.3" x2="669.5" y2="352.8" stroke="#000" stroke-width="1"/>
<line x1="631" y1="352.5" x2="660" y2="352.5" stroke="#000" stroke-width="1"/>
<line x1="631" y1="384.5" x2="664" y2="384.5" stroke="#000" stroke-width="1"/>
<line x1="636.5" y1="352.6" x2="636.5" y2="384.3" stroke="#000" stroke-width="1"/>
<polygon points="636.5,352.8 638.7,364.3 636.5,362.8 634.3,364.3" fill="#000"/>
<polygon points="636.5,384.2 634.3,372.7 636.5,374.2 638.7,372.7" fill="#000"/>
<g transform="translate(627.8 368) rotate(-90) scale(0.1089 0.1096) translate(-90.1 35.5)"><path d="M33,0 V-71.5 L16,-58" fill="none" stroke="#000" stroke-width="10" stroke-linejoin="miter"/><path d="M88.6,0 V-71.5 L71.6,-58" fill="none" stroke="#000" stroke-width="10" stroke-linejoin="miter"/><text x="111.2" y="0">6</text></g>
</svg>
</body></html>
